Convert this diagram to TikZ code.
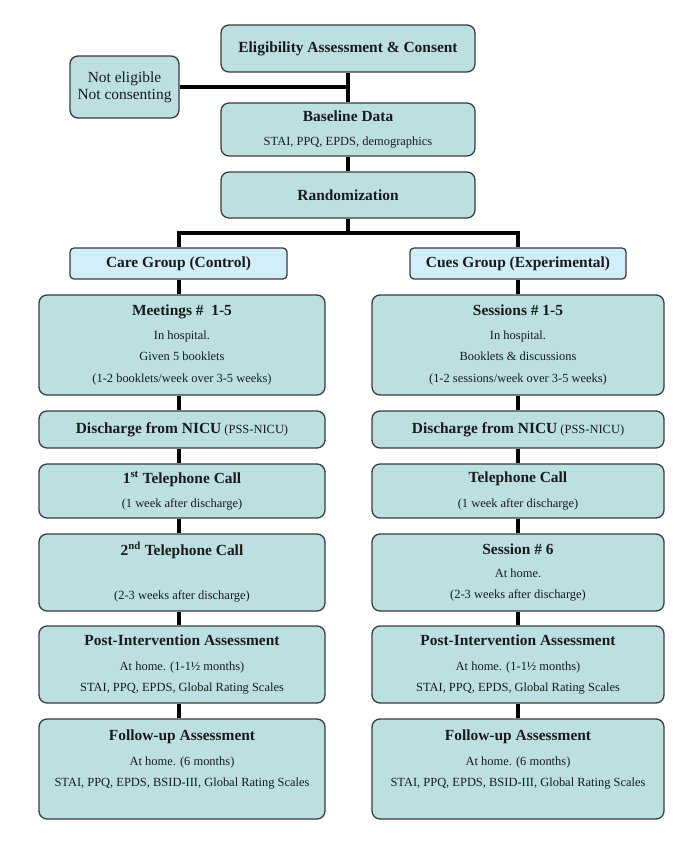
\documentclass[tikz,border=0pt]{standalone}
\usepackage{fontspec}
\setmainfont{Liberation Serif}
\usepackage{tikz}
\usetikzlibrary{positioning,calc}
\definecolor{Ink}{HTML}{1A1A1A}
\definecolor{Edge}{HTML}{3C3C3C}
\definecolor{Teal}{HTML}{BCE0E2}
\definecolor{Sky}{HTML}{D3EEFB}
\tikzset{
  box/.style={draw=Edge,line width=1.3bp,rounded corners=8bp,fill=Teal,align=center,inner sep=0pt,text=Ink,
    font=\fontsize{12.5}{21.5}\selectfont},
  groupbox/.style={box,fill=Sky,rounded corners=4bp},
  link/.style={line width=4bp,draw=black}
}
\newcommand{\hd}[1]{{\fontsize{15.5}{21.5}\selectfont\bfseries #1}}

\begin{document}
\begin{tikzpicture}[x=1bp,y=-1bp]
  \useasboundingbox (0,0) rectangle (685,849);
  % top trunk
  \node[box,minimum width=254bp,minimum height=47bp] (elig) at (348,48.5) {\hd{Eligibility Assessment \& Consent}};
  \node[box,minimum width=109bp,minimum height=62bp,font=\fontsize{15.5}{17}\selectfont] (noelig) at (124.5,87) {Not eligible\\Not consenting};
  \node[box,minimum width=254bp,minimum height=53bp] (base) at (348,129.5) {\hd{Baseline Data}\\[2pt]STAI, PPQ, EPDS, demographics};
  \node[box,minimum width=254bp,minimum height=46bp] (rand) at (348,195) {\hd{Randomization}};
  \coordinate (split) at (348,233);
  % groups
  \node[groupbox,minimum width=217bp,minimum height=31bp] (care) at (178.5,263.5) {\hd{Care Group (Control)}};
  \node[groupbox,minimum width=216bp,minimum height=31bp] (cues) at (518,263.5) {\hd{Cues Group (Experimental)}};
  % control column
  \node[box,minimum width=286bp,minimum height=100bp] (meet) at (182,345) {\hd{Meetings \#\ \ 1-5}\\[2pt]In hospital.\\Given 5 booklets\\(1-2 booklets/week over 3-5 weeks)};
  \node[box,minimum width=286bp,minimum height=37bp] (dischC) at (182,429.5) {\hd{Discharge from NICU} (PSS-NICU)};
  \node[box,minimum width=286bp,minimum height=54bp] (telA) at (182,491) {\hd{1\textsuperscript{st} Telephone Call}\\[3pt](1 week after discharge)};
  \node[box,minimum width=286bp,minimum height=77bp] (telB) at (182,572.5) {\hd{2\textsuperscript{nd} Telephone Call}\\[2pt]\mbox{}\\(2-3 weeks after discharge)};
  \node[box,minimum width=286bp,minimum height=77bp] (postC) at (182,664.5) {\hd{Post-Intervention Assessment}\\[3pt]At home. (1-1½ months)\\STAI, PPQ, EPDS, Global Rating Scales};
  \node[box,minimum width=286bp,minimum height=100bp] (follC) at (182,769) {\hd{Follow-up Assessment}\\[3pt]At home. (6 months)\\STAI, PPQ, EPDS, BSID-III, Global Rating Scales\\\mbox{}};
  % experimental column
  \node[box,minimum width=292bp,minimum height=100bp] (sess) at (518,345) {\hd{Sessions \# 1-5}\\[2pt]In hospital.\\Booklets \& discussions\\(1-2 sessions/week over 3-5 weeks)};
  \node[box,minimum width=292bp,minimum height=37bp] (dischE) at (518,429.5) {\hd{Discharge from NICU} (PSS-NICU)};
  \node[box,minimum width=292bp,minimum height=54bp] (telE) at (518,491) {\hd{Telephone Call}\\[3pt](1 week after discharge)};
  \node[box,minimum width=292bp,minimum height=77bp] (sixE) at (518,572.5) {\hd{Session \# 6}\\[2pt]At home.\\(2-3 weeks after discharge)};
  \node[box,minimum width=292bp,minimum height=77bp] (postE) at (518,664.5) {\hd{Post-Intervention Assessment}\\[3pt]At home. (1-1½ months)\\STAI, PPQ, EPDS, Global Rating Scales};
  \node[box,minimum width=292bp,minimum height=100bp] (follE) at (518,769) {\hd{Follow-up Assessment}\\[3pt]At home. (6 months)\\STAI, PPQ, EPDS, BSID-III, Global Rating Scales\\\mbox{}};
  % connectors
  \draw[link] (elig) -- (base); \draw[link] (noelig.east) -- (noelig.east -| elig.south);
  \draw[link] (base) -- (rand); \draw[link] (rand) -- (split);
  \draw[link] (care.north) |- (split) -| (cues.north);
  \draw[link] (care.south) -- (care.south |- meet.north);
  \foreach \a/\b in {meet/dischC,dischC/telA,telA/telB,telB/postC,postC/follC}
    \draw[link] (care.south |- \a.south) -- (care.south |- \b.north);
  \draw[link] (cues) -- (sess);
  \foreach \a/\b in {sess/dischE,dischE/telE,telE/sixE,sixE/postE,postE/follE}
    \draw[link] (\a) -- (\b);
\end{tikzpicture}
\end{document}
